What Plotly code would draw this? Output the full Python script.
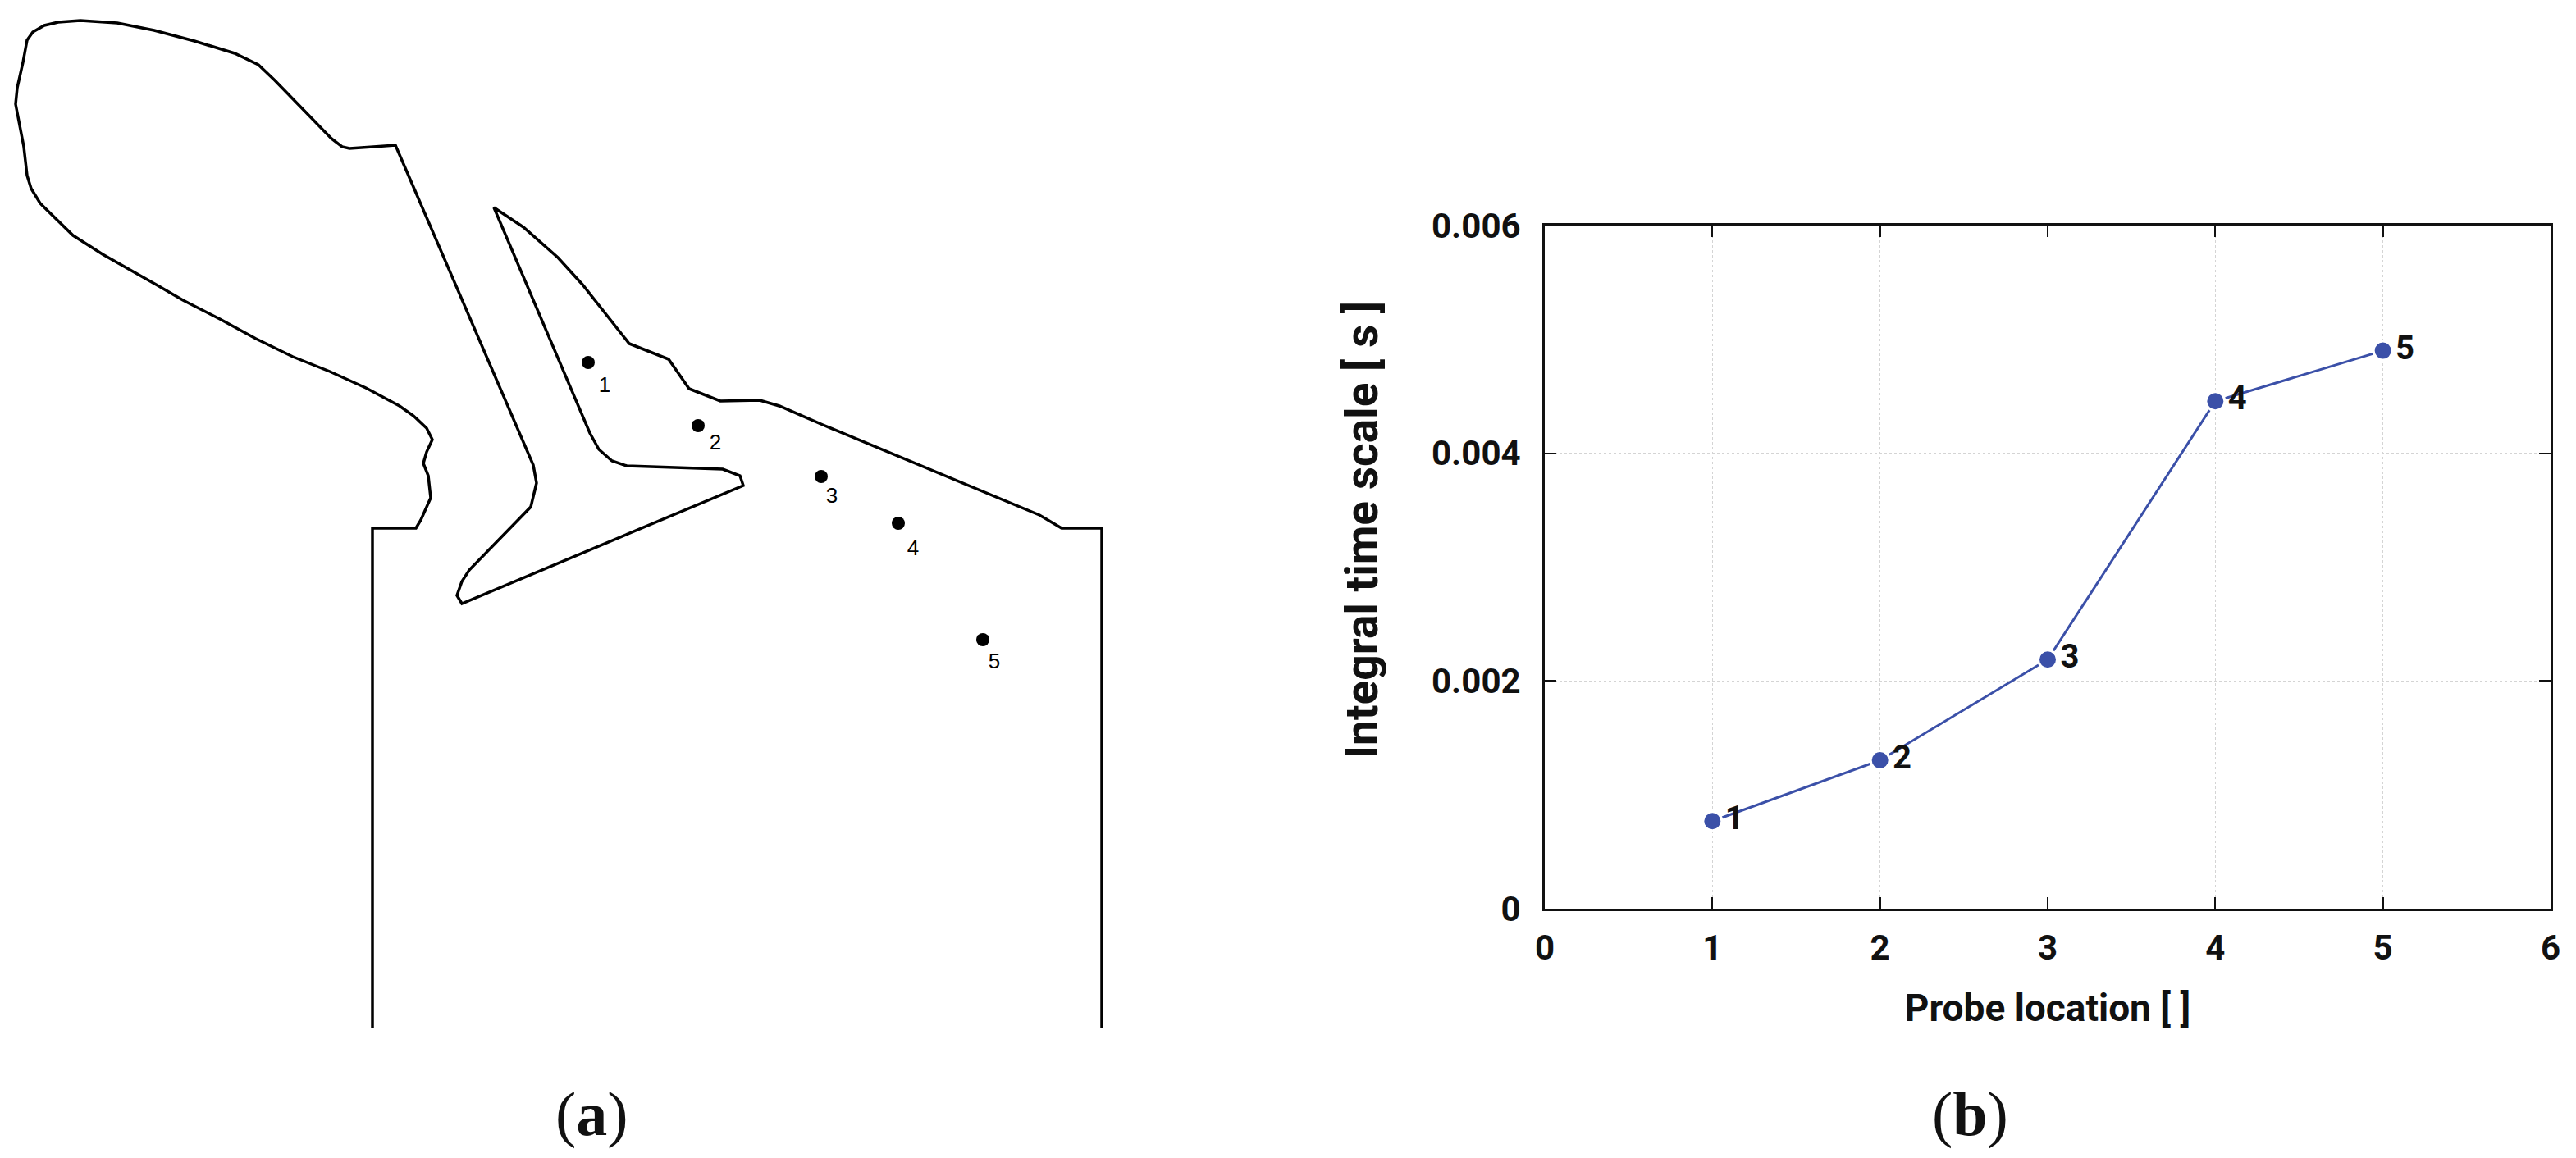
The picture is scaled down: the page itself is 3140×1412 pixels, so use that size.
import plotly.graph_objects as go

W, H = 3140, 1412

# Panel (b): measured data
probe_location = [1, 2, 3, 4, 5]
integral_time_scale = [0.000769, 0.001304, 0.002188, 0.004457, 0.004901]
point_labels = ["1", "2", "3", "4", "5"]
x_ticks = [0, 1, 2, 3, 4, 5, 6]
y_ticks = [0, 0.002, 0.004, 0.006]
y_tick_labels = ["0", "0.002", "0.004", "0.006"]

# Panel (a): geometry outline and probe points
outline_x = [454, 454, 507, 513, 525, 522, 516, 520, 527, 520, 504, 487, 446, 402, 357, 312, 268, 223,
             192, 156, 125, 89, 67, 49, 38, 33, 29, 22, 19, 21, 28, 33, 40, 54, 71, 98, 143, 188, 237,
             286, 315, 335, 357, 379, 404, 417, 426, 455, 482, 650, 654, 647, 572, 563, 557, 563, 906,
             902, 881, 764, 746, 730, 719, 602, 638, 680, 710, 767, 815, 840, 878, 926, 950, 1003,
             1099, 1219, 1267, 1294, 1343, 1343]
outline_y = [1253, 644, 644, 634, 607, 580, 565, 551, 536, 522, 507, 495, 473, 453, 435, 413, 389, 366,
             348, 328, 310, 287, 266, 248, 230, 214, 179, 143, 127, 107, 76, 49, 39, 31, 27, 25, 28, 37,
             50, 65, 79, 98, 121, 143, 169, 179, 181, 179, 177, 567, 589, 618, 695, 709, 726, 736, 592,
             580, 572, 568, 562, 548, 528, 253, 277, 314, 347, 419, 438, 474, 489, 488, 495, 518,
             558, 608, 628, 644, 644, 1253]
probe_x = [717, 851, 1001, 1095, 1198]
probe_y = [442, 519, 581, 638, 780]
probe_label_x = [737, 872, 1014, 1113, 1212]
probe_label_y = [471, 541, 606, 670, 808]

BLUE = "#3b50a8"
INK = "#111111"

fig = go.Figure()

fig.add_trace(go.Scatter(x=outline_x, y=outline_y, mode="lines", xaxis="x", yaxis="y",
                         line=dict(color="black", width=3.5), hoverinfo="skip", showlegend=False))
fig.add_trace(go.Scatter(x=probe_x, y=probe_y, mode="markers", xaxis="x", yaxis="y",
                         marker=dict(color="black", size=16), showlegend=False))
fig.add_trace(go.Scatter(x=probe_label_x, y=probe_label_y, mode="text", xaxis="x", yaxis="y",
                         text=point_labels, textposition="middle center",
                         textfont=dict(family="Liberation Sans", size=26, color="black"), showlegend=False))

fig.add_trace(go.Scatter(x=probe_location, y=integral_time_scale, mode="lines+markers+text",
                         xaxis="x2", yaxis="y2", line=dict(color=BLUE, width=3),
                         marker=dict(color=BLUE, size=23, line=dict(color="white", width=3)),
                         text=point_labels, textposition="middle right",
                         textfont=dict(family="Roboto", size=40, color=INK, weight="bold"),
                         cliponaxis=False, showlegend=False))

axis_font = dict(family="Roboto", size=42, color=INK, weight="bold")
x_title_font = dict(family="Roboto", size=46, color=INK, weight="bold")
y_title_font = dict(family="Roboto", size=55, color=INK, weight="bold")

fig.update_layout(
    width=W, height=H, margin=dict(l=0, r=0, t=0, b=0),
    paper_bgcolor="white", plot_bgcolor="white",
    xaxis=dict(domain=[0, 1570 / W], range=[0, 1570], visible=False, automargin=False),
    yaxis=dict(domain=[0, 1], range=[H, 0], visible=False, automargin=False),
    xaxis2=dict(domain=[1883 / W, 3109 / W], range=[0, 6], anchor="y2", tickvals=x_ticks,
                automargin=False, ticklabelstandoff=9,
                ticks="inside", ticklen=14, tickwidth=2, tickcolor=INK, mirror="ticks",
                showline=True, linecolor=INK, linewidth=3, zeroline=False,
                showgrid=True, gridcolor="#d4d4d4", griddash="dot", gridwidth=1,
                tickfont=axis_font,
                title=dict(text="Probe location [ ]", font=x_title_font, standoff=34)),
    yaxis2=dict(domain=[1 - 1108 / H, 1 - 275 / H], range=[0, 0.006], anchor="x2", tickvals=y_ticks,
                ticktext=y_tick_labels, automargin=False, ticklabelstandoff=18,
                ticks="inside", ticklen=14, tickwidth=2, tickcolor=INK, mirror="ticks",
                showline=True, linecolor=INK, linewidth=3, zeroline=False,
                showgrid=True, gridcolor="#d4d4d4", griddash="dot", gridwidth=1,
                tickfont=axis_font),
    annotations=[
        dict(text="Integral time scale [ s ]", x=1660 / W, y=1 - 646 / H, xref="paper", yref="paper",
             showarrow=False, textangle=-90, xanchor="center", yanchor="middle", font=y_title_font),
        dict(text="(<b>a</b>)", x=721 / W, y=1 - 1358 / H, xref="paper", yref="paper", showarrow=False,
             xanchor="center", yanchor="middle",
             font=dict(family="Liberation Serif", size=76, color="#111111")),
        dict(text="(<b>b</b>)", x=2401 / W, y=1 - 1358 / H, xref="paper", yref="paper", showarrow=False,
             xanchor="center", yanchor="middle",
             font=dict(family="Liberation Serif", size=76, color="#111111")),
    ],
)

fig.write_html("out.html", config=dict(displayModeBar=False),
               post_script="document.body.style.margin='0';")
